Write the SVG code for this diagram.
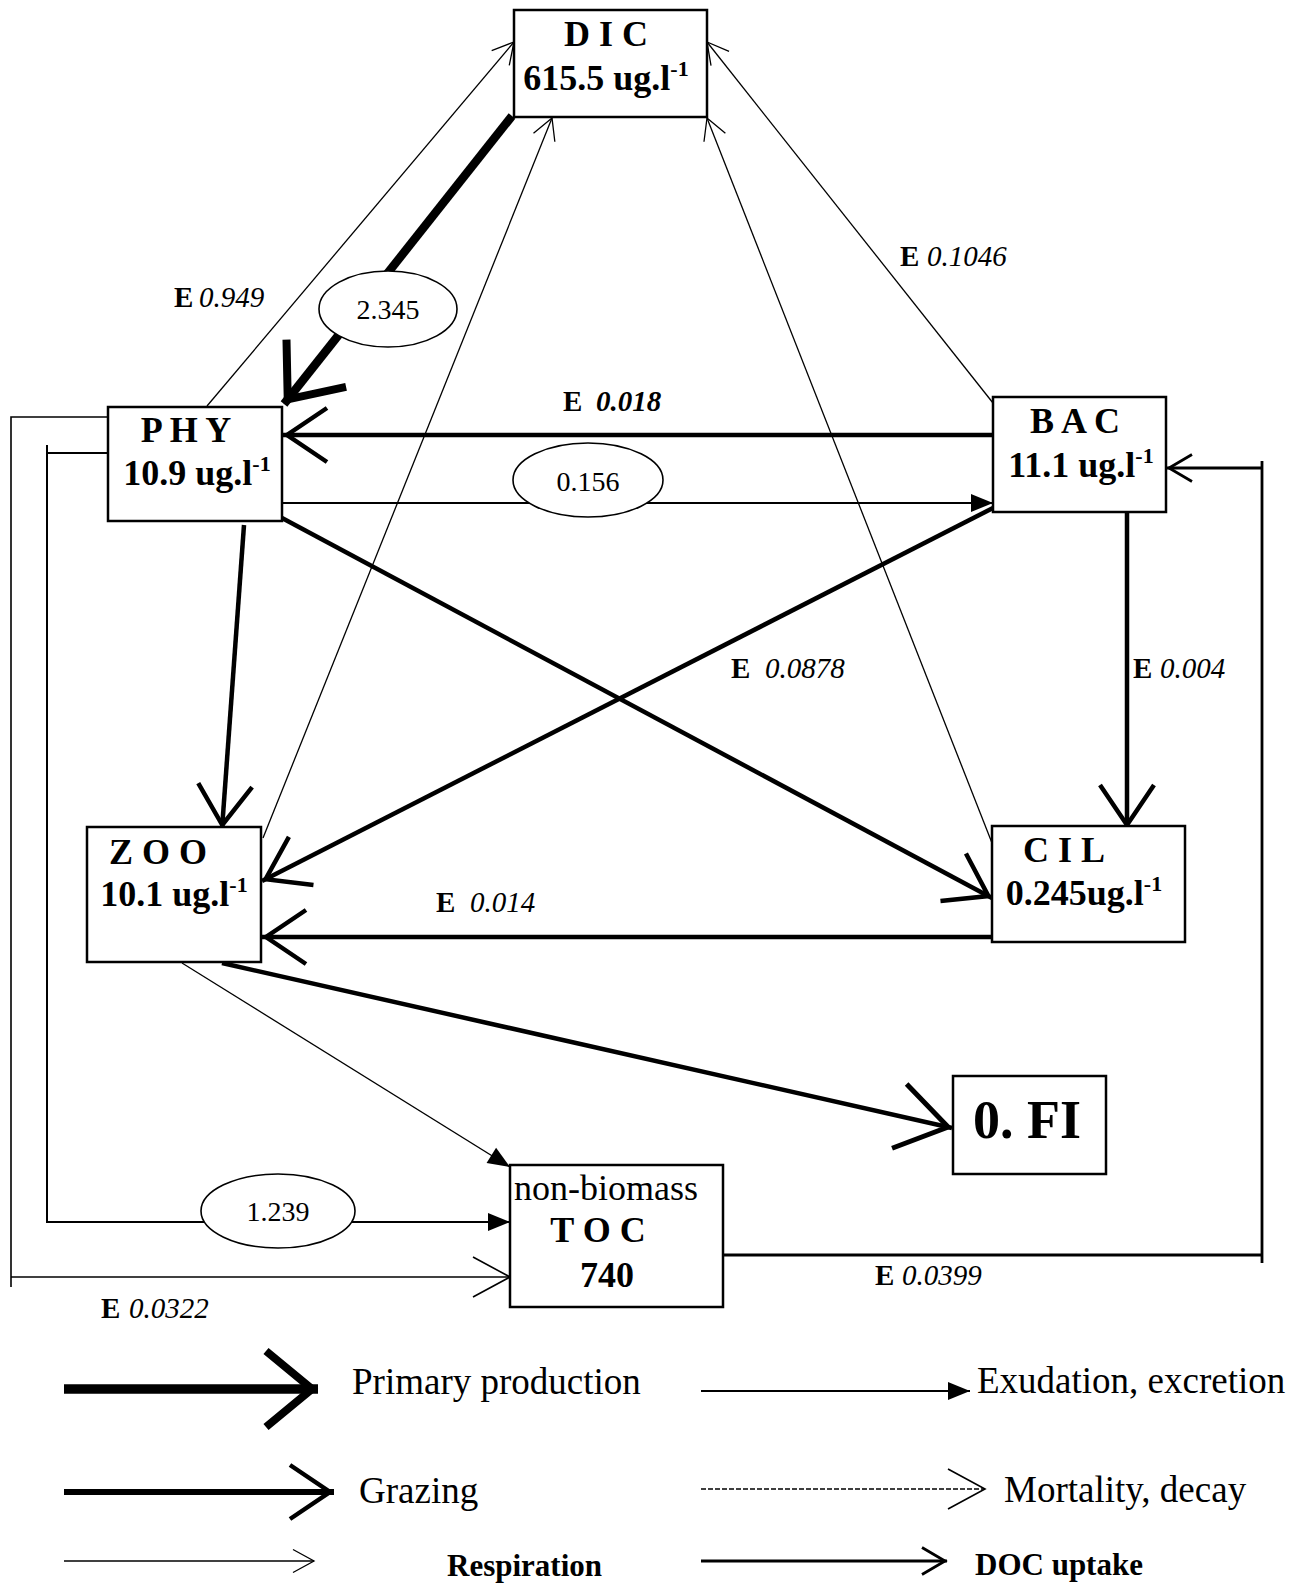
<svg xmlns="http://www.w3.org/2000/svg" width="1297" height="1584" viewBox="0 0 1297 1584">
<style>
.box{fill:#fff;stroke:#000;stroke-width:2.5}
.nt{font-family:"Liberation Serif","Times New Roman",serif;font-weight:bold;font-size:36px;text-anchor:middle;fill:#000}
.nr{font-family:"Liberation Serif","Times New Roman",serif;font-size:36px;text-anchor:middle;fill:#000}
.sup{font-size:22px}
.c{fill:none;stroke:#000}
.pp{stroke-width:8.5}
.gr{stroke-width:4.5}
.rs{stroke-width:1.3}
.ex{stroke-width:2}
.dc{stroke-width:2.8}
.el{fill:#fff;stroke:#000;stroke-width:1.6}
.elt{font-family:"Liberation Serif","Times New Roman",serif;font-size:28px;text-anchor:middle;fill:#000}
.lab{font-family:"Liberation Serif","Times New Roman",serif;font-size:29px;fill:#000}
.b{font-weight:bold}
.i{font-style:italic}
.leg{font-family:"Liberation Serif","Times New Roman",serif;font-size:37px;fill:#000}
.legb{font-family:"Liberation Serif","Times New Roman",serif;font-size:31px;font-weight:bold;fill:#000}
</style>
<defs>
<marker id="m-pp" markerUnits="userSpaceOnUse" orient="auto" refX="0" refY="0" viewBox="-70 -50 80 100" markerWidth="80" markerHeight="100" overflow="visible">
<path d="M-52,-38 L-6,0 L-52,38" fill="none" stroke="#000" stroke-width="8"/>
</marker>
<marker id="m-gr" markerUnits="userSpaceOnUse" orient="auto" refX="0" refY="0" viewBox="-60 -40 70 80" markerWidth="70" markerHeight="80" overflow="visible">
<path d="M-44,-27 L-4,0 L-44,27" fill="none" stroke="#000" stroke-width="4.5"/>
</marker>
<marker id="m-grL" markerUnits="userSpaceOnUse" orient="auto" refX="0" refY="0" viewBox="-70 -45 80 90" markerWidth="80" markerHeight="90" overflow="visible">
<path d="M-54,-33 L-4,0 L-54,33" fill="none" stroke="#000" stroke-width="5"/>
</marker>
<marker id="m-rs" markerUnits="userSpaceOnUse" orient="auto" refX="0" refY="0" viewBox="-30 -15 35 30" markerWidth="35" markerHeight="30" overflow="visible">
<path d="M-21,-11.5 L0,0 L-21,11.5" fill="none" stroke="#000" stroke-width="1.3"/>
</marker>
<marker id="m-mo" markerUnits="userSpaceOnUse" orient="auto" refX="0" refY="0" viewBox="-45 -25 50 50" markerWidth="50" markerHeight="50" overflow="visible">
<path d="M-37,-20 L0,0 L-37,20" fill="none" stroke="#000" stroke-width="1.6"/>
</marker>
<marker id="m-dc" markerUnits="userSpaceOnUse" orient="auto" refX="0" refY="0" viewBox="-30 -18 35 36" markerWidth="35" markerHeight="36" overflow="visible">
<path d="M-25,-13.5 L-2,0 L-25,13.5" fill="none" stroke="#000" stroke-width="2.8"/>
</marker>
<marker id="m-ex" markerUnits="userSpaceOnUse" orient="auto" refX="0" refY="0" viewBox="-25 -10 27 20" markerWidth="27" markerHeight="20" overflow="visible">
<path d="M0,0 L-22,-9 L-22,9 Z" fill="#000"/>
</marker>
</defs>
<rect x="0" y="0" width="1297" height="1584" fill="#fff"/>

<g id="connectors">
<!-- primary production DIC -> PHY -->
<path class="c pp" d="M512,116 L284,404" marker-end="url(#m-pp)"/>
<!-- respiration to DIC -->
<path class="c rs" d="M207,406 L514,42" marker-end="url(#m-rs)"/>
<path class="c rs" d="M263,838 L552,118" marker-end="url(#m-rs)"/>
<path class="c rs" d="M992,843 L707,118" marker-end="url(#m-rs)"/>
<path class="c rs" d="M993,403 L707,42" marker-end="url(#m-rs)"/>
<!-- BAC -> PHY -->
<path class="c gr" d="M993,435 L283,435" marker-end="url(#m-gr)"/>
<!-- PHY -> BAC exudation -->
<path class="c ex" d="M282,503 L993,503" marker-end="url(#m-ex)"/>
<!-- grazing -->
<path class="c gr" d="M244,525 L222,829" marker-end="url(#m-gr)"/>
<path class="c gr" d="M282,518 L992,898" marker-end="url(#m-gr)"/>
<path class="c gr" d="M993,508 L262,881" marker-end="url(#m-gr)"/>
<path class="c gr" d="M992,937 L262,937" marker-end="url(#m-gr)"/>
<path class="c gr" d="M1127,512 L1127,829" marker-end="url(#m-gr)"/>
<path class="c gr" d="M222,963 L952,1128" marker-end="url(#m-grL)"/>
<!-- ZOO -> TOC -->
<path class="c rs" d="M182,963 L510,1167" marker-end="url(#m-ex)"/>
<!-- PHY -> TOC inner loop -->
<path class="c ex" d="M108,453 L47,453"/>
<path class="c ex" d="M47,445 L47,1222 L510,1222" marker-end="url(#m-ex)"/>
<!-- PHY -> TOC outer loop -->
<path class="c" stroke-width="1.6" d="M108,417 L11,417 L11,1287"/>
<path class="c" stroke-width="1.6" d="M11,1277 L510,1277" marker-end="url(#m-mo)"/>
<!-- TOC -> BAC -->
<path class="c dc" d="M723,1255 L1262,1255"/>
<path class="c dc" d="M1262,1263 L1262,461"/>
<path class="c dc" d="M1262,468 L1167,468" marker-end="url(#m-dc)"/>
<!-- flow ellipses -->
<ellipse class="el" cx="388" cy="309" rx="69" ry="38"/>
<text class="elt" x="388" y="319">2.345</text>
<ellipse class="el" cx="588" cy="480" rx="75" ry="37"/>
<text class="elt" x="588" y="491">0.156</text>
<ellipse class="el" cx="278" cy="1211" rx="77" ry="37"/>
<text class="elt" x="278" y="1221">1.239</text>
</g>

<g id="edge-labels">
<text class="lab" x="174" y="307"><tspan class="b">E</tspan><tspan class="i" x="199">0.949</tspan></text>
<text class="lab" x="900" y="266"><tspan class="b">E</tspan><tspan class="i" x="927">0.1046</tspan></text>
<text class="lab" x="563" y="411"><tspan class="b">E</tspan><tspan class="b i" x="596">0.018</tspan></text>
<text class="lab" x="731" y="678"><tspan class="b">E</tspan><tspan class="i" x="765">0.0878</tspan></text>
<text class="lab" x="1133" y="678"><tspan class="b">E</tspan><tspan class="i" x="1160">0.004</tspan></text>
<text class="lab" x="436" y="912"><tspan class="b">E</tspan><tspan class="i" x="470">0.014</tspan></text>
<text class="lab" x="101" y="1318"><tspan class="b">E</tspan><tspan class="i" x="129">0.0322</tspan></text>
<text class="lab" x="875" y="1285"><tspan class="b">E</tspan><tspan class="i" x="902">0.0399</tspan></text>
</g>

<g id="dic">
<rect class="box" x="514" y="10" width="193" height="107"/>
<text class="nt" x="606" y="46">D I C</text>
<text class="nt" x="606" y="90">615.5 ug.l<tspan class="sup" dy="-14">-1</tspan></text>
</g>
<g id="phy">
<rect class="box" x="108" y="407" width="174" height="114"/>
<text class="nt" x="186" y="442">P H Y</text>
<text class="nt" x="197" y="485">10.9 ug.l<tspan class="sup" dy="-14">-1</tspan></text>
</g>
<g id="bac">
<rect class="box" x="993" y="397" width="173" height="115"/>
<text class="nt" x="1075" y="433">B A C</text>
<text class="nt" x="1081" y="477">11.1 ug.l<tspan class="sup" dy="-14">-1</tspan></text>
</g>
<g id="zoo">
<rect class="box" x="87" y="827" width="174" height="135"/>
<text class="nt" x="158" y="864">Z O O</text>
<text class="nt" x="174" y="906">10.1 ug.l<tspan class="sup" dy="-14">-1</tspan></text>
</g>
<g id="cil">
<rect class="box" x="992" y="826" width="193" height="116"/>
<text class="nt" x="1064" y="862">C I L</text>
<text class="nt" x="1084" y="905">0.245ug.l<tspan class="sup" dy="-14">-1</tspan></text>
</g>
<g id="toc">
<rect class="box" x="510" y="1165" width="213" height="142"/>
<text class="nr" x="606" y="1200">non-biomass</text>
<text class="nt" x="598" y="1242">T O C</text>
<text class="nt" x="607" y="1287">740</text>
</g>
<g id="fi">
<rect class="box" x="953" y="1076" width="153" height="98"/>
<text class="nt" x="1027" y="1138" style="font-size:54px">0. FI</text>
</g>

<g id="legend">
<path class="c" stroke-width="9.5" d="M64,1389 L318,1389" marker-end="url(#m-pp)"/>
<text class="leg" x="352" y="1394">Primary production</text>
<path class="c ex" d="M701,1391 L970,1391" marker-end="url(#m-ex)"/>
<text class="leg" x="977" y="1393">Exudation, excretion</text>
<path class="c" stroke-width="6" d="M64,1492 L334,1492" marker-end="url(#m-gr)"/>
<text class="leg" x="359" y="1503">Grazing</text>
<path class="c" stroke-width="1.3" stroke-dasharray="5 2" d="M701,1489 L985,1489" marker-end="url(#m-mo)"/>
<text class="leg" x="1004" y="1502">Mortality, decay</text>
<path class="c rs" d="M64,1561 L314,1561" marker-end="url(#m-rs)"/>
<text class="legb" x="447" y="1576">Respiration</text>
<path class="c dc" d="M701,1561 L947,1561" marker-end="url(#m-dc)"/>
<text class="legb" x="975" y="1575">DOC uptake</text>
</g>
</svg>
